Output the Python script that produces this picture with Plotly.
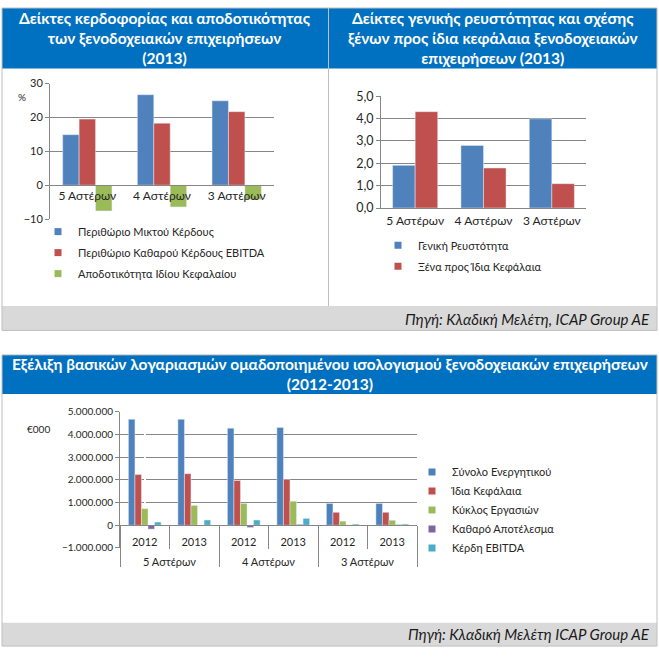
import plotly.graph_objects as go

W, H = 659, 657

# ---- data -------------------------------------------------------------
stars = ["5 Αστέρων", "4 Αστέρων", "3 Αστέρων"]

gross_margin = [14.9, 26.7, 24.9]
ebitda_margin = [19.5, 18.3, 21.7]
roe = [-7.6, -6.4, -4.2]

liquidity = [1.91, 2.80, 3.99]
debt_to_equity = [4.31, 1.79, 1.09]

years = ["2012", "2013", "2012", "2013", "2012", "2013"]
total_assets = [4660000, 4660000, 4270000, 4300000, 960000, 960000]
equity = [2230000, 2270000, 1970000, 2020000, 570000, 570000]
turnover = [730000, 870000, 960000, 1060000, 180000, 220000]
net_result = [-170000, -20000, -100000, 40000, 10000, 30000]
ebitda = [140000, 230000, 230000, 300000, 50000, 50000]

BLUE, RED, GREEN, PURPLE, CYAN = "#4F81BD", "#C0504D", "#9BBB59", "#8064A2", "#4BACC6"
TITLE_BG = "#0070C0"
BAND = "#D9D9D9"
EDGE = "#BFBFBF"
GRID = "#868686"
FONT = "Lato, Noto Sans, sans-serif"
TXT = "#262626"


def px(x):
    return x / W


def py(y):
    return 1 - y / H


fig = go.Figure()


def add_bars(names, values, colors, x, xa, ya, leg, leg_xa=None):
    for n, v, c in zip(names, values, colors):
        fig.add_trace(go.Bar(x=x, y=v, marker_color=c, xaxis=xa, yaxis=ya,
                             showlegend=False, hoverinfo="skip"))
        # small square legend markers like Excel
        fig.add_trace(go.Scatter(x=[None], y=[None], mode="markers", name=n,
                                 marker=dict(symbol="square", size=7, color=c),
                                 xaxis=leg_xa or xa, yaxis=ya, legend=leg, legendgroup=n))


add_bars(["Περιθώριο Μικτού Κέρδους", "Περιθώριο Καθαρού Κέρδους EBITDA",
          "Αποδοτικότητα Ιδίου Κεφαλαίου"],
         [gross_margin, ebitda_margin, roe], [BLUE, RED, GREEN],
         stars, "x", "y", "legend")

add_bars(["Γενική Ρευστότητα", "Ξένα προς Ίδια Κεφάλαια"],
         [liquidity, debt_to_equity], [BLUE, RED],
         stars, "x2", "y2", "legend2")

# bottom chart: one slot per (star class, year); star classes labelled on an overlay axis
slots = list(range(len(years)))
group_pos = [slots[i] + 0.5 for i in range(0, len(slots), 2)]

add_bars(["Σύνολο Ενεργητικού", "Ίδια Κεφάλαια", "Κύκλος Εργασιών",
          "Καθαρό Αποτέλεσμα", "Κέρδη EBITDA"],
         [total_assets, equity, turnover, net_result, ebitda],
         [BLUE, RED, GREEN, PURPLE, CYAN],
         slots, "x3", "y3", "legend3", leg_xa="x4")

# ---- panel decoration --------------------------------------------------
shapes = []


def rect(x0, y0, x1, y1, fill=None, line=None):
    shapes.append(dict(type="rect", xref="paper", yref="paper",
                       x0=px(x0), x1=px(x1), y0=py(y1), y1=py(y0),
                       fillcolor=fill or "rgba(0,0,0,0)",
                       line=dict(color=line or "rgba(0,0,0,0)", width=1),
                       layer="below"))


rect(2, 0, 328, 62, TITLE_BG)
rect(329, 0, 657, 62, TITLE_BG)
rect(2, 305, 657, 330, BAND)
rect(2, 0, 657, 330, None, EDGE)
shapes.append(dict(type="line", xref="paper", yref="paper", x0=px(328.5), x1=px(328.5),
                   y0=py(305), y1=py(0), line=dict(color=EDGE, width=1)))
rect(2, 355, 657, 395, TITLE_BG)
rect(2, 629, 657, 653, BAND)
rect(2, 355, 657, 653, None, EDGE)

ann = []


def text(x, y, s, size, color=TXT, bold=False, italic=False, align="center", xanchor="center"):
    ann.append(dict(x=px(x), y=py(y), xref="paper", yref="paper", text=s, showarrow=False,
                    align=align, xanchor=xanchor, yanchor="middle",
                    font=dict(family=FONT, size=size, color=color,
                              weight="bold" if bold else "normal",
                              style="italic" if italic else "normal")))


text(165, 31, "Δείκτες κερδοφορίας και αποδοτικότητας<br>των ξενοδοχειακών επιχειρήσεων<br>(2013)",
     15.5, "white", bold=True)
text(493, 31, "Δείκτες γενικής ρευστότητας και σχέσης<br>ξένων προς ίδια κεφάλαια ξενοδοχειακών<br>επιχειρήσεων (2013)",
     15.5, "white", bold=True)
text(330, 375, "Εξέλιξη βασικών λογαριασμών ομαδοποιημένου ισολογισμού ξενοδοχειακών επιχειρήσεων<br>(2012-2013)",
     15.5, "white", bold=True)
text(652, 318, "Πηγή: Κλαδική Μελέτη, ICAP Group AE", 15, "#1a1a1a", italic=True, xanchor="right")
text(652, 641, "Πηγή: Κλαδική Μελέτη ICAP Group AE", 15, "#1a1a1a", italic=True, xanchor="right")
text(22, 91, "%", 10)
text(38, 431, "€000", 10)

axfont = dict(family=FONT, size=11, color=TXT)
catfont = dict(family=FONT, size=12, color=TXT)
yax = dict(showline=True, linecolor=GRID, gridcolor=GRID, gridwidth=1, ticks="outside",
           ticklen=4, tickcolor=GRID, zeroline=False, tickfont=axfont, fixedrange=True)
xax = dict(showline=True, linecolor=GRID, ticks="", tickfont=catfont, fixedrange=True)

leg = dict(font=dict(family=FONT, size=11, color=TXT), bgcolor="rgba(0,0,0,0)",
           xanchor="left", yanchor="top", traceorder="grouped", itemwidth=30)

xr = [-0.5, len(slots) - 0.5]

fig.update_layout(
    width=W, height=H, margin=dict(l=0, r=0, t=0, b=0),
    paper_bgcolor="white", plot_bgcolor="rgba(0,0,0,0)",
    separators=",.", barmode="group", bargap=0.34, showlegend=True,
    shapes=shapes, annotations=ann,
    xaxis=dict(xax, domain=[px(50), px(274)], anchor="free", position=py(181)),
    yaxis=dict(yax, domain=[py(216), py(77.3)], range=[-10, 30], dtick=10, anchor="x"),
    xaxis2=dict(xax, domain=[px(381), px(586)], anchor="y2", ticklabelstandoff=2),
    yaxis2=dict(yax, domain=[py(204.7), py(90.3)], range=[0, 5], dtick=1,
                tickformat=".1f", anchor="x2", tickfont=dict(catfont, size=12.5)),
    # years row
    xaxis3=dict(xax, domain=[px(120), px(417)], anchor="free", position=py(529.3),
                range=xr, tickmode="array", tickvals=slots, ticktext=years,
                ticklabelstandoff=7, tickfont=dict(family=FONT, size=11, color=TXT),
                minor=dict(ticks="outside", tickmode="array",
                           tickvals=[s + 0.5 for s in slots[:-1]],
                           ticklen=23, tickcolor=GRID)),
    # star-class row
    xaxis4=dict(xax, domain=[px(120), px(417)], anchor="free", position=py(529.3),
                overlaying="x3", range=xr, showline=False, showgrid=False,
                tickmode="array", tickvals=group_pos, ticktext=stars, ticklabelstandoff=29,
                tickfont=dict(family=FONT, size=11, color=TXT),
                minor=dict(ticks="outside", tickmode="array",
                           tickvals=[xr[0], 1.5, 3.5, xr[1]],
                           ticklen=41, tickcolor=GRID)),
    yaxis3=dict(yax, domain=[py(552.6), py(413)], range=[-1000000, 5000000],
                dtick=1000000, tickformat=",d", anchor="x3",
                tickfont=dict(family=FONT, size=10, color=TXT)),
    legend=dict(leg, x=px(38), y=py(214), tracegroupgap=2),
    legend2=dict(leg, x=px(378), y=py(228), tracegroupgap=2),
    legend3=dict(leg, x=px(412), y=py(460), tracegroupgap=0),
)

fig.write_html("out.html", config={"displayModeBar": False},
               post_script="document.body.style.margin='0';")
